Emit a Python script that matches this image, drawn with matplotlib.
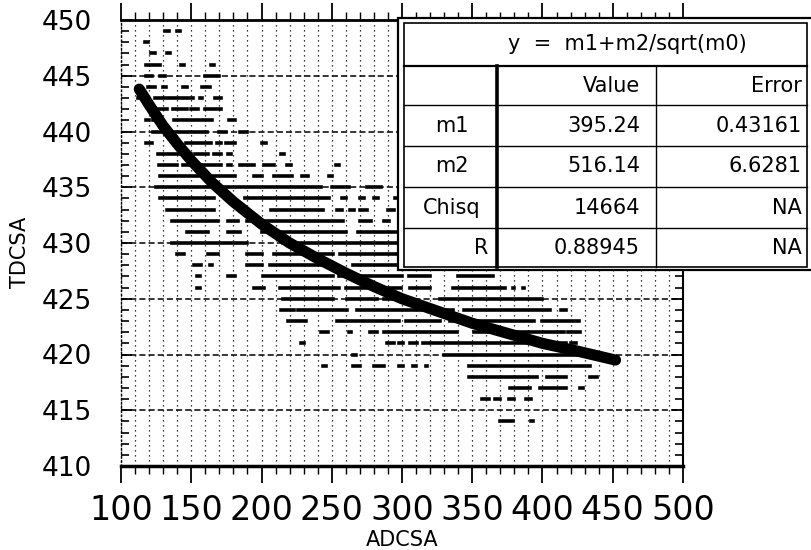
import matplotlib
matplotlib.use("Agg")
import matplotlib.pyplot as plt
from matplotlib.ticker import MultipleLocator
from matplotlib.patches import Rectangle

# fit result shown in the table
fit_formula = "y  =  m1+m2/sqrt(m0)"
fit_names = ["m1", "m2", "Chisq", "R"]
fit_values = ["395.24", "516.14", "14664", "0.88945"]
fit_errors = ["0.43161", "6.6281", "NA", "NA"]

# fitted curve (ADCSA, TDCSA)
curve_x = [113, 120, 130, 140, 150, 165, 180, 200, 220, 240, 260, 280,
           300, 325, 350, 375, 400, 425, 452]
curve_y = [443.8, 442.4, 440.5, 438.9, 437.4, 435.4, 433.7, 431.7, 430.0,
           428.6, 427.3, 426.1, 425.0, 423.9, 422.8, 421.9, 421.0, 420.3,
           419.5]

# measured points: TDC comes in whole counts, so points pile up into
# horizontal runs.  (TDCSA level, ADCSA from, ADCSA to)
dash_runs = [
    (449, 131, 134), (449, 140, 142),
    (448, 117, 119),
    (447, 121, 124), (447, 133, 135),
    (446, 118, 128), (446, 143, 145), (446, 164, 166),
    (445, 118, 122), (445, 128, 131), (445, 160, 170),
    (444, 119, 124), (444, 130, 132), (444, 144, 147), (444, 158, 163),
    (443, 112, 116), (443, 124, 151), (443, 156, 158), (443, 167, 171),
    (442, 126, 133), (442, 137, 147), (442, 150, 155), (442, 160, 171),
    (441, 118, 120), (441, 123, 126), (441, 138, 165), (441, 177, 181),
    (440, 123, 161), (440, 170, 175), (440, 185, 190),
    (439, 118, 122), (439, 146, 164), (439, 168, 171), (439, 175, 181),
    (439, 200, 203),
    (438, 126, 150), (438, 153, 162), (438, 166, 171), (438, 176, 178),
    (438, 214, 216),
    (437, 127, 140), (437, 144, 157), (437, 159, 171), (437, 176, 178),
    (437, 185, 195), (437, 202, 209), (437, 218, 221), (437, 253, 255),
    (436, 128, 155), (436, 162, 169), (436, 171, 181), (436, 195, 200),
    (436, 209, 222), (436, 229, 233), (436, 248, 250),
    (435, 125, 242), (435, 250, 262), (435, 275, 285),
    (434, 128, 166), (434, 188, 248), (434, 257, 260), (434, 270, 273),
    (434, 280, 283), (434, 295, 298),
    (433, 133, 166), (433, 207, 244), (433, 254, 257), (433, 263, 266),
    (433, 270, 275), (433, 290, 294),
    (432, 136, 169), (432, 176, 183), (432, 190, 258), (432, 270, 278),
    (432, 287, 291),
    (431, 147, 162), (431, 176, 185), (431, 200, 260), (431, 269, 298),
    (430, 136, 190), (430, 215, 299),
    (429, 140, 145), (429, 162, 169), (429, 190, 200), (429, 209, 251),
    (429, 256, 273), (429, 275, 296),
    (428, 152, 157), (428, 163, 165), (428, 190, 200), (428, 206, 251),
    (428, 265, 298),
    (427, 154, 156), (427, 176, 181), (427, 201, 251), (427, 255, 300),
    (427, 305, 320), (427, 340, 365),
    (426, 154, 156), (426, 195, 202), (426, 213, 255), (426, 260, 299),
    (426, 306, 320), (426, 336, 370), (426, 372, 373), (426, 379, 380),
    (426, 386, 387),
    (425, 215, 251), (425, 261, 282), (425, 287, 306), (425, 327, 400),
    (424, 214, 223), (424, 226, 261), (424, 268, 317), (424, 327, 336),
    (424, 344, 405), (424, 413, 417),
    (423, 219, 232), (423, 254, 298), (423, 303, 327), (423, 334, 353),
    (423, 355, 394), (423, 400, 426),
    (422, 242, 247), (422, 262, 264), (422, 277, 282), (422, 287, 339),
    (422, 351, 415), (422, 418, 427),
    (421, 228, 230), (421, 289, 294), (421, 298, 301), (421, 306, 311),
    (421, 315, 417), (421, 420, 424),
    (420, 265, 267), (420, 330, 433),
    (419, 244, 246), (419, 265, 270), (419, 280, 287), (419, 298, 301),
    (419, 308, 310), (419, 317, 318), (419, 348, 396), (419, 398, 410),
    (419, 412, 434),
    (418, 348, 396), (418, 403, 417), (418, 434, 439),
    (417, 377, 391), (417, 398, 417), (417, 427, 429),
    (416, 357, 362), (416, 366, 370), (416, 376, 380), (416, 388, 392),
    (414, 370, 379), (414, 392, 393),
]

plt.rcParams["font.family"] = ["DejaVu Sans"]

W, H = 811, 550
fig = plt.figure(figsize=(W / 100, H / 100), dpi=100)
ax = fig.add_axes([121 / W, 84 / H, 562 / W, 446 / H])
ax.set_xlim(100, 500)
ax.set_ylim(410, 450)

# grid: dotted verticals every 10, dashed horizontals every 5
ax.xaxis.set_major_locator(MultipleLocator(50))
ax.xaxis.set_minor_locator(MultipleLocator(10))
ax.yaxis.set_major_locator(MultipleLocator(5))
ax.yaxis.set_minor_locator(MultipleLocator(1))
ax.grid(which="both", axis="x", color="k", ls=(0, (1, 3)), lw=0.9)
ax.grid(which="major", axis="y", color="k", ls=(0, (4, 2)), lw=1.1)

lev, x0, x1 = zip(*dash_runs)
ax.hlines(lev, x0, x1, color="k", lw=2.6, capstyle="projecting", zorder=3)

ax.plot(curve_x, curve_y, color="k", lw=8, solid_capstyle="round",
        zorder=4)

ax.tick_params(axis="x", which="both", direction="out", top=True,
               bottom=True, labeltop=False)
ax.tick_params(axis="x", which="major", length=12, width=1.3,
               labelsize=24, pad=8)
ax.tick_params(axis="x", which="minor", length=5.5, width=1)
ax.tick_params(axis="y", which="both", direction="in", left=True,
               right=True)
ax.tick_params(axis="y", which="major", length=8, width=1.3,
               labelsize=19, pad=21)
ax.tick_params(axis="y", which="minor", length=5.5, width=1.2)

ax.spines["top"].set_linewidth(2)
ax.spines["bottom"].set_linewidth(2.5)
ax.spines["right"].set_linewidth(1.5)
ax.spines["left"].set_linewidth(1)
ax.spines["left"].set_linestyle((0, (1, 2)))

fig.text(20 / W, 1 - 252 / H, "TDCSA", rotation=90, fontsize=15,
         ha="center", va="center")
fig.text(402 / W, 1 - 540 / H, "ADCSA", fontsize=15,
         ha="center", va="center")

# fit table, drawn in figure pixels on an overlay
tab = fig.add_axes([0, 0, 1, 1])
tab.set_xlim(0, W)
tab.set_ylim(H, 0)
tab.axis("off")
tab.add_patch(Rectangle((398, 18), 415, 252, fc="white", ec="k", lw=1.6))
tab.add_patch(Rectangle((404, 23), 403, 244, fc="none", ec="k", lw=1.2))
row_edges = [23, 66, 105, 146, 187, 228, 267]
for y in row_edges[1:-1]:
    tab.plot([404, 807], [y, y], color="k", lw=1.6 if y == 66 else 1.0)
tab.plot([497, 497], [66, 267], color="k", lw=2.6)
tab.plot([656, 656], [66, 267], color="k", lw=1.0)

fs = 15
tab.text(627, 44, fit_formula, fontsize=fs, ha="center", va="center")
tab.text(640, 86, "Value", fontsize=fs, ha="right", va="center")
tab.text(802, 86, "Error", fontsize=fs, ha="right", va="center")
for i, (name, val, err) in enumerate(zip(fit_names, fit_values, fit_errors)):
    yc = (row_edges[i + 2] + row_edges[i + 3]) / 2
    if name == "R":
        tab.text(488, yc, name, fontsize=fs, ha="right", va="center")
    else:
        tab.text(452, yc, name, fontsize=fs, ha="center", va="center")
    tab.text(640, yc, val, fontsize=fs, ha="right", va="center")
    tab.text(802, yc, err, fontsize=fs, ha="right", va="center")

fig.savefig("out.png", dpi=100)
